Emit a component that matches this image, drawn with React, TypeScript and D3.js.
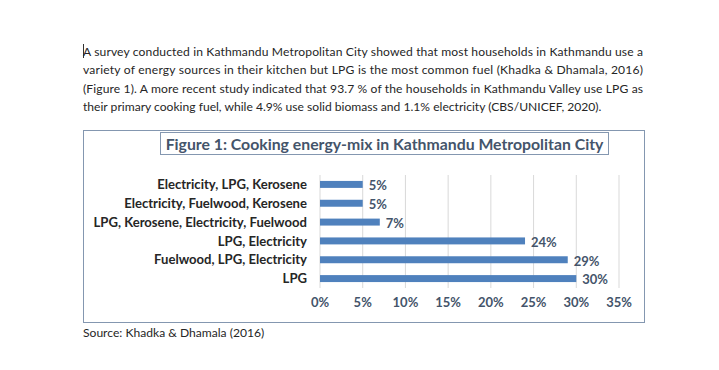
import React, { useMemo } from 'react';
import { scaleBand, scaleLinear } from 'd3';

const FONT = 'Lato, "Open Sans", sans-serif';
const BAR = '#4f81bd';
const LABEL = '#44546a';
const INK = '#262626';

// paragraph above the chart, one entry per printed line
const introLines = [
  'A survey conducted in Kathmandu Metropolitan City showed that most households in Kathmandu use a',
  'variety of energy sources in their kitchen but LPG is the most common fuel (Khadka & Dhamala, 2016)',
  '(Figure 1). A more recent study indicated that 93.7 % of the households in Kathmandu Valley use LPG as',
  'their primary cooking fuel, while 4.9% use solid biomass and 1.1% electricity (CBS/UNICEF, 2020).',
];

const chartTitle = 'Figure 1: Cooking energy-mix in Kathmandu Metropolitan City';
const sourceNote = 'Source: Khadka & Dhamala (2016)';

const categories = [
  'Electricity, LPG, Kerosene',
  'Electricity, Fuelwood, Kerosene',
  'LPG, Kerosene, Electricity, Fuelwood',
  'LPG, Electricity',
  'Fuelwood, LPG, Electricity',
  'LPG',
];
const shares = [0.05, 0.05, 0.07, 0.24, 0.29, 0.3];
const xTicks = [0, 0.05, 0.1, 0.15, 0.2, 0.25, 0.3, 0.35];

const pct = (v: number) => `${Math.round(v * 100)}%`;

export default function App() {
  const W = 719;
  const H = 370;

  const x = useMemo(() => scaleLinear().domain([0, 0.35]).range([320, 619]), []);
  const y = useMemo(
    () => scaleBand<string>().domain(categories).range([175, 288]).paddingInner(0.63).paddingOuter(0.315),
    [],
  );
  const textLeft = 83;
  const textRight = 643;
  const lineTop = 55.5;
  const lineGap = 18.5;

  return (
    <svg
      width={W}
      height={H}
      viewBox={`0 0 ${W} ${H}`}
      style={{ position: 'absolute', left: 0, top: 0, background: '#fff', fontFamily: FONT }}
    >
      <rect width={W} height={H} fill="#fff" />

      {/* caret */}
      <line x1={83.5} x2={83.5} y1={44} y2={58} stroke="#333" strokeWidth={1} />

      {introLines.map((t, i) => (
        <text
          key={i}
          x={textLeft}
          y={lineTop + i * lineGap}
          fontSize={12.1}
          fill={INK}
          textLength={i < introLines.length - 1 ? textRight - textLeft : undefined}
          lengthAdjust="spacing"
        >
          {t}
        </text>
      ))}

      {/* chart frame */}
      <rect x={83.5} y={130.5} width={561} height={192} fill="#fff" stroke="#8497b0" strokeWidth={1} />

      {/* title box */}
      <rect x={160.5} y={132.5} width={448} height={22} fill="#fff" stroke="#8497b0" strokeWidth={1} />
      <text x={384.5} y={149.5} textAnchor="middle" fontSize={15.8} fontWeight={700} fill={LABEL}>
        {chartTitle}
      </text>

      {/* gridlines */}
      {xTicks.map((t) => (
        <line key={t} x1={x(t)} x2={x(t)} y1={175} y2={288} stroke="#d9d9d9" strokeWidth={1} />
      ))}

      {categories.map((c, i) => {
        const yc = (y(c) ?? 0) + y.bandwidth() / 2;
        return (
          <g key={c}>
            <rect x={x(0)} y={y(c)} width={x(shares[i]) - x(0)} height={y.bandwidth()} fill={BAR} />
            <text x={307} y={yc + 4.6} textAnchor="end" fontSize={13.1} fontWeight={700} fill={INK}>
              {c}
            </text>
            <text x={x(shares[i]) + 6} y={yc + 5.8} fontSize={13} fontWeight={700} fill={LABEL}>
              {pct(shares[i])}
            </text>
          </g>
        );
      })}

      {xTicks.map((t) => (
        <text key={t} x={x(t)} y={306.5} textAnchor="middle" fontSize={13} fontWeight={700} fill={LABEL}>
          {pct(t)}
        </text>
      ))}

      <text x={textLeft} y={337} fontSize={12.1} fill={INK}>
        {sourceNote}
      </text>
    </svg>
  );
}
